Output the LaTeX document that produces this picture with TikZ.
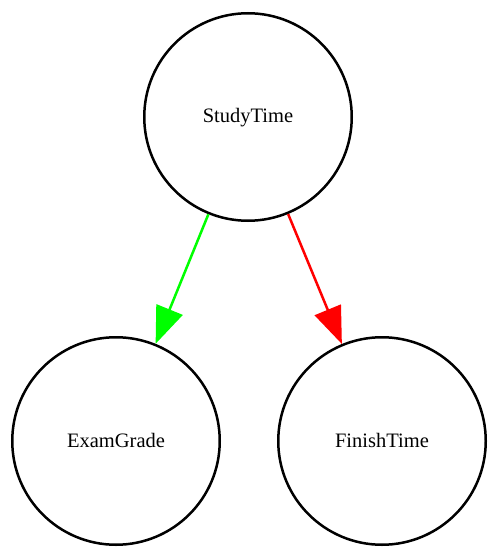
\documentclass[tikz,border=0pt]{standalone}
\usepackage{fontspec}
\setmainfont{Liberation Serif}
\usetikzlibrary{arrows.meta}
\definecolor{edgegreen}{RGB}{0,255,0}
\definecolor{edgered}{RGB}{255,0,0}
\begin{document}
\begin{tikzpicture}[x=1pt,y=-1pt,
  var/.style={circle,draw=black,line width=2.5pt,minimum size=207.5pt,inner sep=0pt,text height=12pt,text depth=0pt,font=\fontsize{20.5}{23}\selectfont},
  edge/.style={line width=2.5pt,-{Triangle[length=37pt,width=28pt]}}]
\useasboundingbox (0,0) rectangle (500,559);
\node[var] (st) at (248,117) {StudyTime};
\node[var] (eg) at (116,441) {ExamGrade};
\node[var] (ft) at (382,441) {FinishTime};
\draw[edge,edgegreen] (st) -- (eg);
\draw[edge,edgered] (st) -- (ft);
\end{tikzpicture}
\end{document}
